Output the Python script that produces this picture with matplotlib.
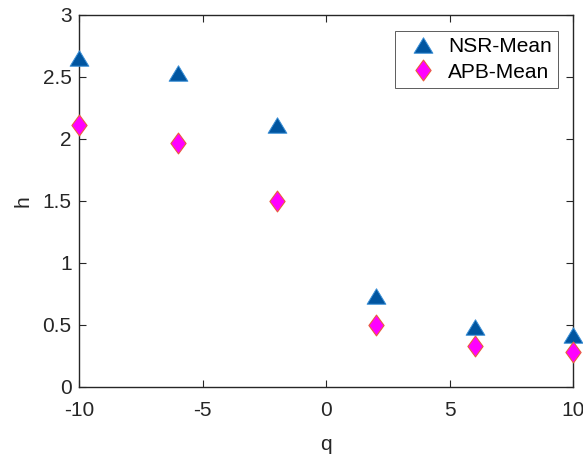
import numpy as np
import matplotlib.pyplot as plt
from matplotlib.path import Path

plt.rcParams['font.family'] = ['Liberation Sans', 'DejaVu Sans']
plt.rcParams['axes.unicode_minus'] = False

q = [-10, -6, -2, 2, 6, 10]
nsr_mean = [2.65, 2.53, 2.11, 0.73, 0.48, 0.42]
apb_mean = [2.11, 1.965, 1.495, 0.495, 0.325, 0.28]

# MATLAB-like markers: wide triangle, wide diamond
tri = Path([(0, 0.825), (-1, -0.825), (1, -0.825), (0, 0.825)],
           [Path.MOVETO, Path.LINETO, Path.LINETO, Path.CLOSEPOLY])
diamond = Path([(0, -1), (0.73, 0), (0, 1), (-0.73, 0), (0, -1)],
               [Path.MOVETO, Path.LINETO, Path.LINETO, Path.LINETO, Path.CLOSEPOLY])

fig = plt.figure(figsize=(5.83, 4.54), dpi=100)
ax = fig.add_axes([0.136, 0.1482, 0.8474, 0.8194])

ax.plot(q, nsr_mean, linestyle='none', marker=tri, markersize=13.5,
        markerfacecolor='#0055a0', markeredgecolor='#3a8fd6', markeredgewidth=0.7,
        label='NSR-Mean', clip_on=False, zorder=3)
ax.plot(q, apb_mean, linestyle='none', marker=diamond, markersize=15,
        markerfacecolor='#ff00ff', markeredgecolor='#e8603c', markeredgewidth=0.8,
        label='APB-Mean', clip_on=False, zorder=3)

ax.set_xlim(-10, 10)
ax.set_ylim(0, 3)
ax.set_xticks([-10, -5, 0, 5, 10])
ax.set_yticks([0, 0.5, 1, 1.5, 2, 2.5, 3])
ax.set_yticklabels(['0', '0.5', '1', '1.5', '2', '2.5', '3'])
ax.set_xlabel('q', fontsize=15, color='#262626', labelpad=11)
ax.set_ylabel('h', fontsize=15, color='#262626', labelpad=7)

for s in ax.spines.values():
    s.set_color('#262626')
    s.set_linewidth(1.0)
ax.tick_params(direction='in', length=5, width=0.8, top=True, right=True,
               labelsize=15, colors='#262626')
ax.tick_params(axis='x', pad=10)
ax.tick_params(axis='y', pad=5.5)

leg = ax.legend(loc='upper right', bbox_to_anchor=(558 / 583, 1 - 31 / 454),
                bbox_transform=fig.transFigure, fontsize=15,
                frameon=True, fancybox=False, edgecolor='#333333',
                borderpad=0.3, handletextpad=0.15, labelspacing=0.3,
                handlelength=2.1, borderaxespad=0)
leg.get_frame().set_linewidth(0.7)

fig.savefig('out.png', dpi=100)
